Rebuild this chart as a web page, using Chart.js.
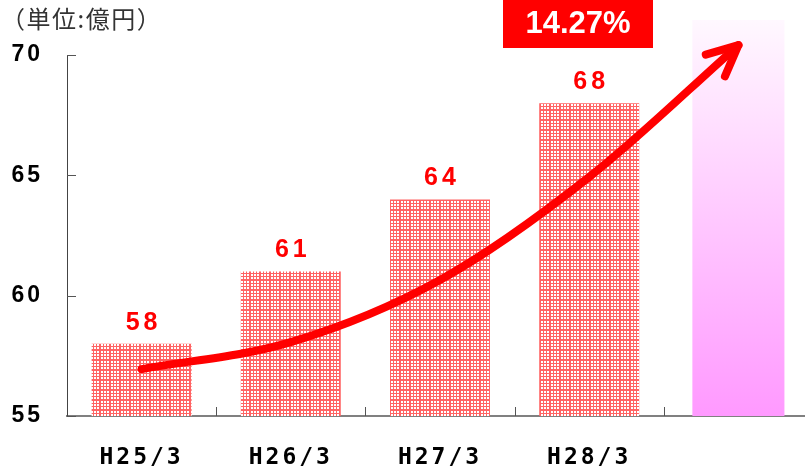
<!DOCTYPE html>
<html lang="ja">
<head>
<meta charset="utf-8">
<style>
  html, body { margin: 0; padding: 0; background: #fff; overflow: hidden; }
</style>
<script src="https://cdn.jsdelivr.net/npm/chart.js@4.4.1/dist/chart.umd.min.js"></script>
</head>
<body>
<!-- a little wider than the window: the last category runs off the right edge like the original -->
<canvas id="chart" width="813" height="469"></canvas>
<script>
const categories = ['H25/3', 'H26/3', 'H27/3', 'H28/3', '']
const results = [58, 61, 64, 68, null]
const forecast = [null, null, null, null, 71.45]
const trend = [56.95, 58.07, 60.65, 64.93, 70.41]
const yMin = 55
const yMax = 70
const yStep = 5
const unitLabel = '（単位:億円）'
const growthLabel = '14.27%'

const canvas = document.getElementById('chart')
const ctx2d = canvas.getContext('2d')

// dotted fill like the original bars
function dotPattern() {
  const tile = document.createElement('canvas')
  tile.width = 10
  tile.height = 10
  const c = tile.getContext('2d')
  c.fillStyle = '#ff6464'
  c.fillRect(0, 0, 10, 10)
  c.fillStyle = '#ffffff'
  for (const x of [1, 4, 7]) {
    for (const y of [1, 4, 7]) c.fillRect(x, y, 2, 2)
  }
  return ctx2d.createPattern(tile, 'repeat')
}

function forecastFill(context) {
  const chart = context.chart
  const area = chart.chartArea
  if (!area) return '#ff99ff'
  const top = chart.scales.y.getPixelForValue(Math.max(...forecast.filter(v => v != null)))
  const g = chart.ctx.createLinearGradient(0, top, 0, area.bottom)
  g.addColorStop(0, '#fff8ff')
  g.addColorStop(1, '#ff99ff')
  return g
}

const decorations = {
  id: 'decorations',
  beforeDraw(chart) {
    chart.ctx.letterSpacing = '3px'
  },
  afterDatasetsDraw(chart) {
    const ctx = chart.ctx
    ctx.save()

    // arrow head on the trend line
    const pts = chart.getDatasetMeta(2).data
    const tip = pts[pts.length - 1]
    const prev = pts[pts.length - 2]
    const fromX = tip.cp1x ?? prev.x
    const fromY = tip.cp1y ?? prev.y
    const ang = Math.atan2(tip.y - fromY, tip.x - fromX)
    ctx.strokeStyle = '#ff0000'
    ctx.lineWidth = 8
    ctx.lineCap = 'round'
    ctx.beginPath()
    for (const s of [-1, 1]) {
      const a = ang + Math.PI + s * 0.44
      ctx.moveTo(tip.x, tip.y)
      ctx.lineTo(tip.x + 34 * Math.cos(a), tip.y + 34 * Math.sin(a))
    }
    ctx.stroke()

    // value labels above the bars
    ctx.letterSpacing = '4px'
    ctx.font = 'bold 25px "Liberation Sans Narrow", "Liberation Sans", sans-serif'
    ctx.fillStyle = '#ff0000'
    ctx.textAlign = 'center'
    ctx.textBaseline = 'middle'
    chart.getDatasetMeta(0).data.forEach((bar, i) => {
      if (results[i] == null) return
      ctx.fillText(String(results[i]), bar.x + 2, bar.y - 21)
    })
    ctx.restore()
  },
  afterDraw(chart) {
    const ctx = chart.ctx
    const area = chart.chartArea
    const { x, y } = chart.scales
    ctx.letterSpacing = '0px'
    ctx.save()

    // inner tick marks
    ctx.strokeStyle = '#555'
    ctx.lineWidth = 1
    ctx.beginPath()
    for (let v = yMin; v <= yMax; v += yStep) {
      const py = Math.round(y.getPixelForValue(v)) + 0.5
      ctx.moveTo(area.left, py)
      ctx.lineTo(area.left + 9, py)
    }
    for (let i = 1; i < categories.length; i++) {
      const px = Math.round((x.getPixelForValue(i - 1) + x.getPixelForValue(i)) / 2) + 0.5
      ctx.moveTo(px, area.bottom)
      ctx.lineTo(px, area.bottom - 9)
    }
    ctx.stroke()

    // unit caption
    ctx.letterSpacing = '1.5px'
    ctx.font = '24px "Noto Sans CJK JP", sans-serif'
    ctx.fillStyle = '#333'
    ctx.textAlign = 'left'
    ctx.textBaseline = 'middle'
    ctx.fillText(unitLabel, 1, 19)

    // growth badge
    ctx.letterSpacing = '0px'
    ctx.fillStyle = '#ff0000'
    ctx.fillRect(503, 0, 150, 48)
    ctx.font = 'bold 31px "Liberation Sans", Arial, sans-serif'
    ctx.fillStyle = '#ffffff'
    ctx.textAlign = 'center'
    ctx.fillText(growthLabel, 578, 24)
    ctx.restore()
  }
}

new Chart(canvas, {
  type: 'bar',
  data: {
    labels: categories,
    datasets: [
      {
        label: 'results',
        data: results,
        backgroundColor: dotPattern(),
        barPercentage: 0.67,
        categoryPercentage: 1,
        order: 2
      },
      {
        label: 'forecast',
        data: forecast,
        backgroundColor: forecastFill,
        barPercentage: 0.617,
        categoryPercentage: 1,
        clip: { left: 0, top: false, right: false, bottom: 0 },
        order: 3
      },
      {
        type: 'line',
        label: 'trend',
        data: trend,
        borderColor: '#ff0000',
        borderWidth: 8,
        borderCapStyle: 'round',
        cubicInterpolationMode: 'monotone',
        pointRadius: 0,
        clip: false,
        order: 1
      }
    ]
  },
  options: {
    responsive: false,
    animation: false,
    layout: { padding: { top: 55, right: 0, left: 0, bottom: 0 } },
    datasets: { bar: { grouped: false } },
    plugins: {
      legend: { display: false },
      tooltip: { enabled: false }
    },
    scales: {
      x: {
        grid: { display: false, drawTicks: false },
        border: { display: true, color: '#808080', width: 2 },
        ticks: {
          font: { family: '"DejaVu Sans Mono", monospace', size: 23, weight: 'bold' },
          color: '#000',
          padding: 28,
          maxRotation: 0,
          autoSkip: false
        },
        afterFit: (scale) => { scale.height = 53 }
      },
      y: {
        min: yMin,
        max: yMax,
        grid: { display: false, drawTicks: false },
        border: { display: true, color: '#444', width: 1 },
        ticks: {
          stepSize: yStep,
          font: { family: '"Liberation Sans", Arial, sans-serif', size: 23, weight: 'bold' },
          color: '#000',
          padding: 24
        },
        afterFit: (scale) => { scale.width = 67 }
      }
    }
  },
  plugins: [decorations]
})
</script>
</body>
</html>
